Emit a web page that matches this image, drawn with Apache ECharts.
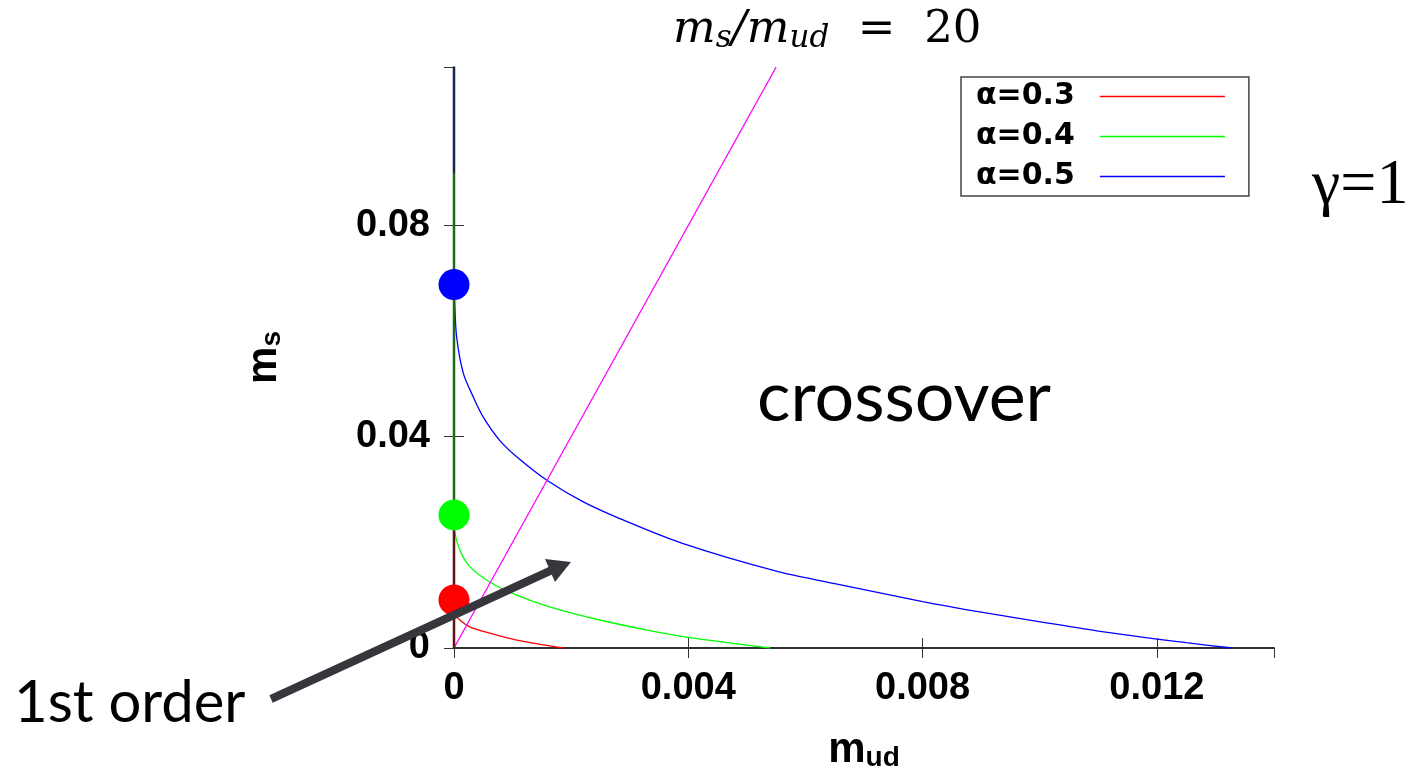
<!DOCTYPE html>
<html>
<head>
<meta charset="utf-8">
<script src="https://cdn.jsdelivr.net/npm/echarts@6/dist/echarts.min.js"></script>
<style>
html, body { margin: 0; padding: 0; background: #fff; }
#main { width: 1414px; height: 769px; }
</style>
</head>
<body>
<div id="main"></div>
<script>
// values
var seriesNames = ['α=0.3', 'α=0.4', 'α=0.5'];
var seriesColors = ['#ff0000', '#00ff00', '#0000ff'];

var redX = [0, 0.00001, 0.0001, 0.00027, 0.00061, 0.00107, 0.00152, 0.00188];
var redY = [0.0091, 0.0066, 0.0053, 0.0040, 0.0028, 0.0015, 0.0006, 0];

var greenX = [0, 0.00001, 0.0001, 0.00027, 0.00061, 0.00107, 0.00163, 0.00249, 0.00334, 0.004, 0.00475, 0.0054];
var greenY = [0.0252, 0.0222, 0.0185, 0.0154, 0.0125, 0.0100, 0.0078, 0.0053, 0.0033, 0.0020, 0.0009, 0];

var blueX = [0, 0.00001, 0.000045, 0.00016, 0.00033, 0.0005, 0.00078, 0.00107, 0.00158, 0.0022, 0.00283,
             0.0039, 0.00555, 0.0065, 0.008, 0.009, 0.01014, 0.011, 0.012, 0.0125, 0.01329];
var blueY = [0.0688, 0.0658, 0.0589, 0.0520, 0.0475, 0.0437, 0.0393, 0.0362, 0.0318, 0.0277, 0.0245,
             0.0198, 0.0144, 0.0122, 0.0088, 0.0068, 0.0047, 0.0032, 0.0017, 0.0010, 0];

// critical end points at m_ud = 0
var dotY = [0.0091, 0.0252, 0.0688];

// segments drawn along the m_ud = 0 edge
var edgeRedY = [0, 0.0252];
var edgeGreenY = [0.0252, 0.09];
var edgeBlueY = [0.09, 0.11];

// m_s / m_ud = 20 line
var ratioX = [0, 0.0055];
var ratioY = [0, 0.11];

var xTicks = [0, 0.004, 0.008, 0.012];
var yTicks = [0, 0.04, 0.08];

function zip(xs, ys) {
    return xs.map(function(x, i) { return [x, ys[i]]; });
}

var myChart = echarts.init(document.getElementById('main'));

var tickFont = {
    fontFamily: 'Liberation Sans', fontWeight: 'bold', fontSize: 38, color: '#000'
};
var nameRich = {
    m: { fontFamily: 'Liberation Sans', fontWeight: 'bold', fontSize: 42, color: '#000' },
    s: { fontFamily: 'Liberation Sans', fontWeight: 'bold', fontSize: 28, color: '#000', padding: [16, 0, 0, 0] }
};

function tickLabel(v) {
    for (var i = 0; i < xTicks.length; i++) {
        if (Math.abs(v - xTicks[i]) < 1e-9) return String(xTicks[i]);
    }
    for (var j = 0; j < yTicks.length; j++) {
        if (Math.abs(v - yTicks[j]) < 1e-9) return String(yTicks[j]);
    }
    return '';
}

var frameLine = { show: true, lineStyle: { color: '#222', width: 1.5 } };
var innerTick = { show: true, inside: true, length: 10, lineStyle: { color: '#333', width: 1 } };

var edgeSeries = function(ys, color) {
    return {
        type: 'line', data: [[0, ys[0]], [0, ys[1]]], symbol: 'none', silent: true,
        lineStyle: { color: color, width: 2.5 }, z: 3
    };
};

var titleFont = { fontFamily: 'DejaVu Serif', fontStyle: 'italic', fontWeight: 'normal', color: '#000' };

myChart.setOption({
    animation: false,
    backgroundColor: '#fff',
    title: {
        left: 668, top: 2,
        text: '{m|m}{s|s}{t|/}{m|m}{s|ud}{e|  =  20}',
        textStyle: {
            fontWeight: 'normal',
            rich: {
                m: Object.assign({ fontSize: 45 }, titleFont),
                s: Object.assign({ fontSize: 31, padding: [16, 0, 0, 0] }, titleFont),
                t: Object.assign({ fontSize: 45 }, titleFont),
                e: { fontFamily: 'DejaVu Serif', fontWeight: 'normal', fontSize: 45, color: '#000' }
            }
        }
    },
    legend: {
        data: seriesNames,
        orient: 'vertical',
        left: 961, top: 77,
        align: 'right',
        icon: 'rect',
        itemWidth: 125, itemHeight: 1.5,
        itemGap: 9,
        padding: [4, 24, 4, 15],
        borderColor: '#444', borderWidth: 1.5,
        textStyle: {
            fontFamily: 'DejaVu Sans', fontWeight: 'bold', fontSize: 30, color: '#000',
            lineHeight: 31, padding: [0, 20, 0, 0]
        }
    },
    grid: { left: 454, top: 67, right: 140, bottom: 121, outerBoundsMode: 'none' },
    xAxis: [{
        type: 'value', min: 0, max: 0.014, interval: 0.004,
        position: 'bottom',
        axisLine: frameLine, axisTick: innerTick, splitLine: { show: false },
        axisLabel: Object.assign({ margin: 22, showMaxLabel: false, formatter: tickLabel }, tickFont),
        name: '{m|m}{s|ud}', nameLocation: 'middle', nameGap: 80,
        nameTextStyle: { rich: nameRich }
    }, {
        type: 'value', min: 0, max: 0.014, interval: 0.004,
        position: 'top',
        axisLine: frameLine, axisTick: innerTick, splitLine: { show: false },
        axisLabel: { show: false }
    }],
    yAxis: [{
        type: 'value', min: 0, max: 0.11, interval: 0.04,
        position: 'left',
        axisLine: frameLine, axisTick: innerTick, splitLine: { show: false },
        axisLabel: Object.assign({ margin: 24, showMaxLabel: false, formatter: tickLabel }, tickFont),
        name: '{m|m}{s|s}', nameLocation: 'middle', nameGap: 168, nameRotate: 90,
        nameTextStyle: { rich: nameRich }
    }, {
        type: 'value', min: 0, max: 0.11, interval: 0.04,
        position: 'right',
        axisLine: frameLine, axisTick: innerTick, splitLine: { show: false },
        axisLabel: { show: false }
    }],
    series: [
        {
            name: seriesNames[0], type: 'line', data: zip(redX, redY), symbol: 'none',
            smooth: 0.3, lineStyle: { color: seriesColors[0], width: 1.3 }, itemStyle: { color: seriesColors[0] }
        },
        {
            name: seriesNames[1], type: 'line', data: zip(greenX, greenY), symbol: 'none',
            smooth: 0.3, lineStyle: { color: seriesColors[1], width: 1.3 }, itemStyle: { color: seriesColors[1] }
        },
        {
            name: seriesNames[2], type: 'line', data: zip(blueX, blueY), symbol: 'none',
            smooth: 0.3, lineStyle: { color: seriesColors[2], width: 1.3 }, itemStyle: { color: seriesColors[2] }
        },
        {
            type: 'line', data: zip(ratioX, ratioY), symbol: 'none', silent: true,
            lineStyle: { color: '#ff00ff', width: 1.3 }
        },
        edgeSeries(edgeRedY, '#5e1212'),
        edgeSeries(edgeGreenY, '#1a6a1a'),
        edgeSeries(edgeBlueY, '#12284e'),
        {
            type: 'scatter', symbolSize: 31, clip: false, z: 4, silent: true,
            data: dotY.map(function(y, i) {
                return { value: [0, y], itemStyle: { color: seriesColors[i], opacity: 1 } };
            })
        }
    ],
    graphic: [
        {
            type: 'text', left: 757, top: 363,
            style: { text: 'crossover', font: '70px Lato', fill: '#000' }
        },
        {
            type: 'text', left: 14, top: 674,
            style: { text: '1st order', font: '58px Lato', fill: '#000' }
        },
        {
            type: 'text', left: 1312, top: 154,
            style: { text: 'γ=1', fontSize: 64, fontFamily: 'Liberation Serif', fill: '#000' }
        },
        {
            type: 'line', z: 10,
            shape: { x1: 271, y1: 699, x2: 552, y2: 570 },
            style: { stroke: '#36363c', lineWidth: 8 }
        },
        {
            type: 'polygon', z: 10,
            shape: { points: [[571, 562], [545, 559], [555, 582]] },
            style: { fill: '#36363c' }
        }
    ]
});
</script>
</body>
</html>
